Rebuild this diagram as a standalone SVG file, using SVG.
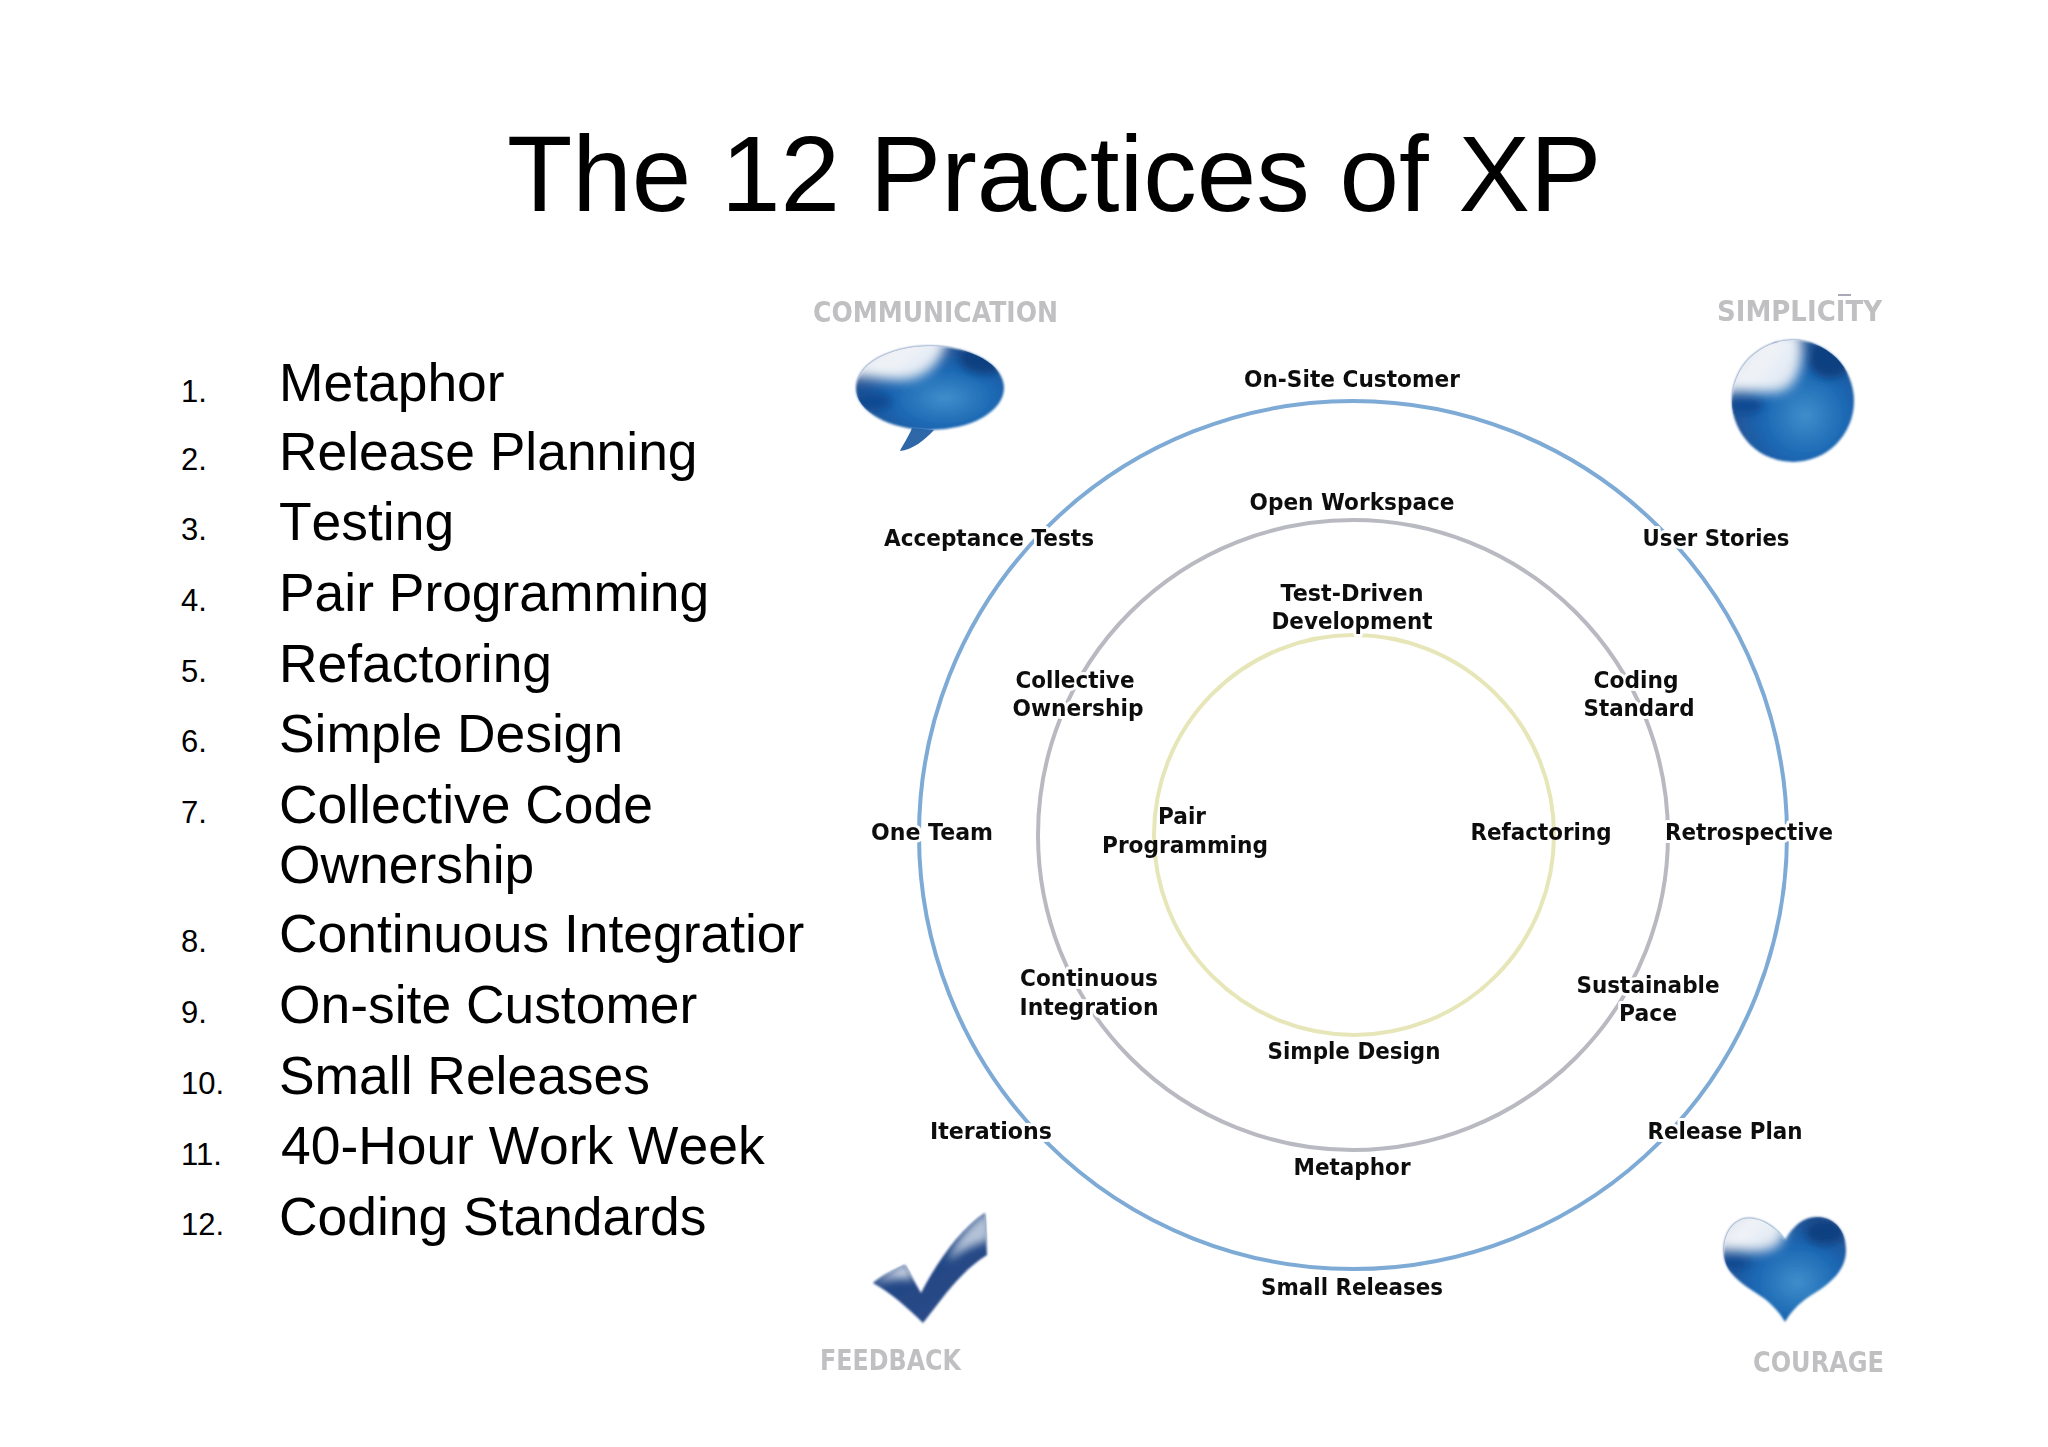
<svg xmlns="http://www.w3.org/2000/svg" width="2048" height="1447" viewBox="0 0 2048 1447">
<style>
.sans{font-family:"Liberation Sans",Arial,sans-serif;fill:#000}
.title{font-size:107px}
.item{font-size:53.4px;font-kerning:none}
.num{font-size:31px}
.lab{font-family:"DejaVu Sans",Verdana,sans-serif;font-weight:700;font-size:23px;fill:#111;text-anchor:middle;stroke:#fff;stroke-width:6px;paint-order:stroke;stroke-linejoin:round;filter:url(#soft)}
.bare{stroke:none}
.val{font-family:"DejaVu Sans",Verdana,sans-serif;font-weight:700;font-size:29px;fill:#c0c0c3;filter:url(#soft)}
.ring{fill:none;stroke-width:4px;filter:url(#soft)}
</style>
<defs>
<filter id="soft" x="-10%" y="-30%" width="120%" height="160%"><feGaussianBlur stdDeviation="0.6"/></filter>
<filter id="blur2" x="-50%" y="-50%" width="200%" height="200%"><feGaussianBlur stdDeviation="4"/></filter>
<filter id="blur3" x="-50%" y="-50%" width="200%" height="200%"><feGaussianBlur stdDeviation="6"/></filter>
<filter id="edge" x="-10%" y="-10%" width="120%" height="120%"><feGaussianBlur stdDeviation="0.9"/></filter>
<radialGradient id="orb" cx="0.6" cy="0.62" r="0.65">
<stop offset="0" stop-color="#3f8ecb"/><stop offset="0.55" stop-color="#1a66b2"/><stop offset="1" stop-color="#274f8e"/>
</radialGradient>
<linearGradient id="tick" x1="0" y1="0" x2="0.6" y2="1">
<stop offset="0" stop-color="#5a78a8"/><stop offset="0.4" stop-color="#1f4484"/><stop offset="1" stop-color="#2c4c88"/>
</linearGradient>
<linearGradient id="shine" x1="0" y1="0" x2="1" y2="0.6">
<stop offset="0" stop-color="#c5cfdf"/><stop offset="0.55" stop-color="#f2f5f9"/><stop offset="1" stop-color="#dbe5f1"/>
</linearGradient>
<clipPath id="cBubble"><ellipse cx="930" cy="388" rx="74" ry="42"/></clipPath>
<clipPath id="cOrb"><circle cx="1793" cy="401" r="61"/></clipPath>
<clipPath id="cHeart"><path d="M1785 1240C1772 1222 1754 1216 1743 1219C1728 1224 1723 1240 1724 1255C1726 1276 1746 1286 1762 1297C1772 1304 1780 1313 1785 1322C1790 1313 1798 1304 1810 1296C1828 1285 1846 1272 1846 1250C1846 1232 1836 1218 1818 1217C1804 1216 1793 1226 1785 1240Z"/></clipPath>
<clipPath id="cTick"><path d="M985 1213L987 1255C960 1272 945 1295 923 1323C908 1308 890 1292 873 1283C882 1275 895 1270 905 1265L921 1293C938 1260 960 1230 985 1213Z"/></clipPath>
</defs>
<rect width="2048" height="1447" fill="#fff"/>
<text class="sans title" x="507" y="211">The 12 Practices of XP</text>
<g id="practice-list">
<text class="sans num" x="181" y="402">1.</text><text class="sans item" x="279" y="401">Metaphor</text>
<text class="sans num" x="181" y="470">2.</text><text class="sans item" x="279" y="470">Release Planning</text>
<text class="sans num" x="181" y="540">3.</text><text class="sans item" x="279" y="540">Testing</text>
<text class="sans num" x="181" y="611">4.</text><text class="sans item" x="279" y="611">Pair Programming</text>
<text class="sans num" x="181" y="682">5.</text><text class="sans item" x="279" y="682">Refactoring</text>
<text class="sans num" x="181" y="752">6.</text><text class="sans item" x="279" y="752">Simple Design</text>
<text class="sans num" x="181" y="823">7.</text><text class="sans item" x="279" y="823">Collective Code</text>
<text class="sans item" x="279" y="883">Ownership</text>
<text class="sans num" x="181" y="952">8.</text><text class="sans item" x="279" y="952">Continuous Integratior</text>
<text class="sans num" x="181" y="1023">9.</text><text class="sans item" x="279" y="1023">On-site Customer</text>
<text class="sans num" x="181" y="1094">10.</text><text class="sans item" x="279" y="1094">Small Releases</text>
<text class="sans num" x="181" y="1165">11.</text><text class="sans item" x="281" y="1164">40-Hour Work Week</text>
<text class="sans num" x="181" y="1235">12.</text><text class="sans item" x="279" y="1235">Coding Standards</text>
</g>
<g id="connectors">
<circle class="ring" cx="1353" cy="835" r="434" stroke="#7eaad6"/>
<circle class="ring" cx="1353" cy="835" r="315" stroke="#b9b9c2"/>
<circle class="ring" cx="1354" cy="835" r="200" stroke="#e6e6b8"/>
</g>
<g id="value-communication">
<text class="val" x="813" y="322" textLength="245" lengthAdjust="spacingAndGlyphs">COMMUNICATION</text>
<path d="M912 428C908 438 902 446 900 451C912 450 925 440 934 430Z" fill="#2f68a8"/>
<ellipse cx="930" cy="388" rx="74" ry="42" fill="url(#orb)" filter="url(#edge)"/>
<g clip-path="url(#cBubble)">
<ellipse cx="985" cy="358" rx="26" ry="16" fill="#0e3f80" filter="url(#blur2)"/>
<ellipse cx="870" cy="402" rx="22" ry="9" fill="#0e4a92" filter="url(#blur2)"/>
<path d="M845 335H948C945 358 930 378 905 380C885 382 868 374 845 378Z" fill="url(#shine)" filter="url(#blur3)"/>
</g>
</g>
<g id="value-simplicity">
<text class="val" x="1717" y="321" textLength="165" lengthAdjust="spacingAndGlyphs">SIMPLICITY</text>
<rect x="1838" y="294" width="13" height="2" fill="#a9a9b8"/>
<circle cx="1793" cy="401" r="61" fill="url(#orb)" filter="url(#edge)"/>
<g clip-path="url(#cOrb)">
<ellipse cx="1830" cy="358" rx="22" ry="20" fill="#0e3f80" filter="url(#blur2)"/>
<ellipse cx="1745" cy="405" rx="18" ry="9" fill="#0e4a92" filter="url(#blur2)"/>
<path d="M1722 332H1800C1806 358 1800 388 1778 392C1760 395 1745 388 1722 394Z" fill="url(#shine)" filter="url(#blur3)"/>
</g>
</g>
<g id="value-feedback">
<path d="M985 1213L987 1255C960 1272 945 1295 923 1323C908 1308 890 1292 873 1283C882 1275 895 1270 905 1265L921 1293C938 1260 960 1230 985 1213Z" fill="url(#tick)" filter="url(#edge)"/>
<g clip-path="url(#cTick)">
<path d="M870 1285L906 1262L914 1280C898 1276 885 1280 870 1285Z" fill="#cfd8e6" filter="url(#blur2)"/>
<path d="M990 1210L990 1240C975 1245 960 1250 948 1262C955 1240 970 1222 990 1210Z" fill="#b4c3d8" filter="url(#blur2)"/>
</g>
<text class="val" x="820" y="1370" textLength="141" lengthAdjust="spacingAndGlyphs">FEEDBACK</text>
</g>
<g id="value-courage">
<path d="M1785 1240C1772 1222 1754 1216 1743 1219C1728 1224 1723 1240 1724 1255C1726 1276 1746 1286 1762 1297C1772 1304 1780 1313 1785 1322C1790 1313 1798 1304 1810 1296C1828 1285 1846 1272 1846 1250C1846 1232 1836 1218 1818 1217C1804 1216 1793 1226 1785 1240Z" fill="url(#orb)" filter="url(#edge)"/>
<g clip-path="url(#cHeart)">
<ellipse cx="1825" cy="1232" rx="20" ry="13" fill="#0e3f80" filter="url(#blur2)"/>
<ellipse cx="1735" cy="1262" rx="14" ry="8" fill="#0e4a92" filter="url(#blur2)"/>
<path d="M1712 1208H1782C1790 1230 1785 1248 1765 1251C1750 1254 1735 1248 1712 1251Z" fill="url(#shine)" filter="url(#blur3)"/>
</g>
<text class="val" x="1753" y="1372" textLength="131" lengthAdjust="spacingAndGlyphs">COURAGE</text>
</g>
<g id="node-onsite-customer"><text class="lab" x="1352" y="387" textLength="216" lengthAdjust="spacingAndGlyphs">On-Site Customer</text></g>
<g id="node-open-workspace"><text class="lab" x="1352" y="510" textLength="205" lengthAdjust="spacingAndGlyphs">Open Workspace</text></g>
<g id="node-tdd"><text class="lab" x="1352" y="601" textLength="143" lengthAdjust="spacingAndGlyphs">Test-Driven</text><text class="lab" x="1352" y="629" textLength="161" lengthAdjust="spacingAndGlyphs">Development</text></g>
<g id="node-acceptance-tests"><text class="lab" x="989" y="546" textLength="210" lengthAdjust="spacingAndGlyphs">Acceptance Tests</text></g>
<g id="node-user-stories"><text class="lab" x="1716" y="546" textLength="147" lengthAdjust="spacingAndGlyphs">User Stories</text></g>
<g id="node-collective-ownership"><text class="lab" x="1075" y="688" textLength="119" lengthAdjust="spacingAndGlyphs">Collective</text><text class="lab" x="1078" y="716" textLength="131" lengthAdjust="spacingAndGlyphs">Ownership</text></g>
<g id="node-coding-standard"><text class="lab" x="1636" y="688" textLength="85" lengthAdjust="spacingAndGlyphs">Coding</text><text class="lab" x="1639" y="716" textLength="111" lengthAdjust="spacingAndGlyphs">Standard</text></g>
<g id="node-one-team"><text class="lab" x="932" y="840" textLength="122" lengthAdjust="spacingAndGlyphs">One Team</text></g>
<g id="node-pair-programming"><text class="lab bare" x="1182" y="824" textLength="48" lengthAdjust="spacingAndGlyphs">Pair</text><text class="lab bare" x="1185" y="853" textLength="166" lengthAdjust="spacingAndGlyphs">Programming</text></g>
<g id="node-refactoring"><text class="lab bare" x="1541" y="840" textLength="141" lengthAdjust="spacingAndGlyphs">Refactoring</text></g>
<g id="node-retrospective"><text class="lab" x="1749" y="840" textLength="168" lengthAdjust="spacingAndGlyphs">Retrospective</text></g>
<g id="node-continuous-integration"><text class="lab" x="1089" y="986" textLength="138" lengthAdjust="spacingAndGlyphs">Continuous</text><text class="lab" x="1089" y="1015" textLength="139" lengthAdjust="spacingAndGlyphs">Integration</text></g>
<g id="node-sustainable-pace"><text class="lab" x="1648" y="993" textLength="143" lengthAdjust="spacingAndGlyphs">Sustainable</text><text class="lab" x="1648" y="1021" textLength="58" lengthAdjust="spacingAndGlyphs">Pace</text></g>
<g id="node-simple-design"><text class="lab" x="1354" y="1059" textLength="173" lengthAdjust="spacingAndGlyphs">Simple Design</text></g>
<g id="node-iterations"><text class="lab" x="991" y="1139" textLength="122" lengthAdjust="spacingAndGlyphs">Iterations</text></g>
<g id="node-release-plan"><text class="lab" x="1725" y="1139" textLength="155" lengthAdjust="spacingAndGlyphs">Release Plan</text></g>
<g id="node-metaphor"><text class="lab" x="1352" y="1175" textLength="117" lengthAdjust="spacingAndGlyphs">Metaphor</text></g>
<g id="node-small-releases"><text class="lab" x="1352" y="1295" textLength="182" lengthAdjust="spacingAndGlyphs">Small Releases</text></g>
</svg>
